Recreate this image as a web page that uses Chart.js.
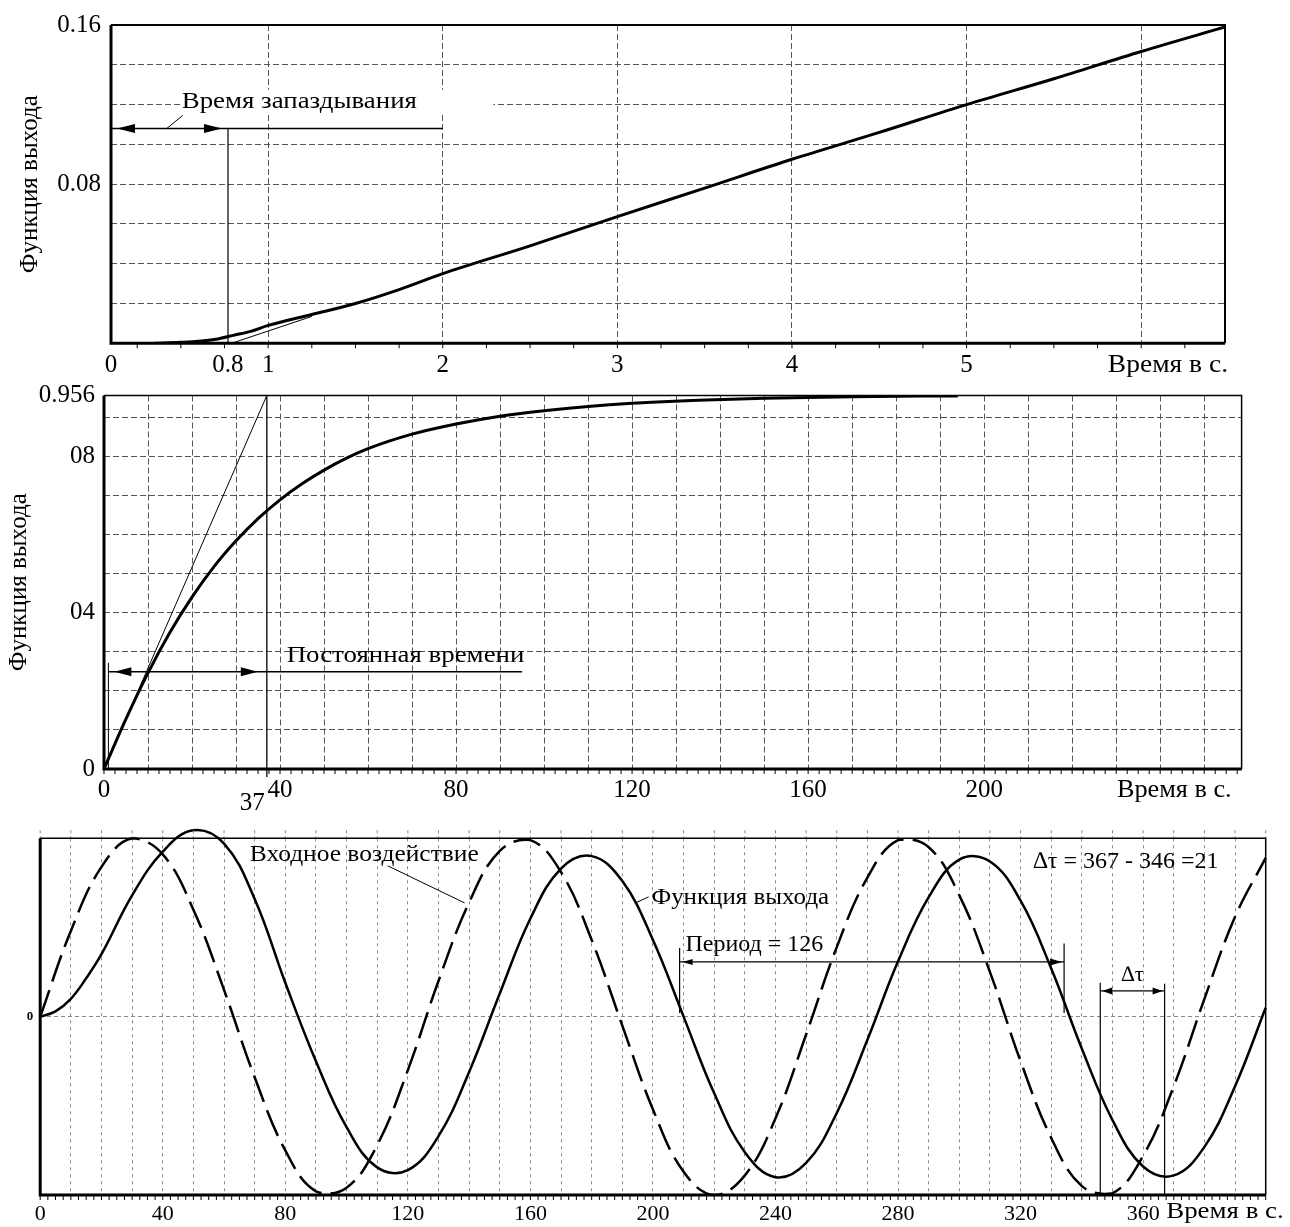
<!DOCTYPE html>
<html>
<head>
<meta charset="utf-8">
<script src="https://cdn.jsdelivr.net/npm/chart.js@4.4.1/dist/chart.umd.min.js"></script>
<style>
  html, body { margin: 0; padding: 0; background: #fff; }
  body { width: 1290px; height: 1227px; position: relative; overflow: hidden; }
  canvas { position: absolute; left: 0; }
</style>
</head>
<body>
<canvas id="delayChart" width="1290" height="390" style="top:0px"></canvas>
<canvas id="stepChart" width="1290" height="462" style="top:368px"></canvas>
<canvas id="sineChart" width="1290" height="407" style="top:820px"></canvas>
<script>
// --- график 1: время запаздывания ---
const delayTime = [0.35, 0.5, 0.6, 0.7, 0.8, 0.9, 1.0, 1.25, 1.5, 1.75, 2.0, 2.5, 3.0, 3.5, 4.0, 4.5, 5.0, 5.5, 6.0, 6.48];
const delayOut = [0, 0.0005, 0.001, 0.002, 0.004, 0.006, 0.009, 0.0145, 0.02, 0.027, 0.035, 0.049, 0.0637, 0.078, 0.0925, 0.106, 0.12, 0.133, 0.1467, 0.159];
const delayTangentX = [0.79, 1.25];
const delayTangentY = [0, 0.0135];
const delayXTicks = [0.1, 0.77, 1, 2, 3, 4, 5, 6];
const delayXLabels = ["0", "0.8", "1", "2", "3", "4", "5", ""];
const delayYTicks = [0, 0.02, 0.04, 0.06, 0.08, 0.1, 0.12, 0.14, 0.16];
const delayYLabels = ["", "", "", "", "0.08", "", "", "", "0.16"];

// --- график 2: постоянная времени ---
const stepTime = [0, 5, 10, 15, 20, 25, 30, 35, 40, 45, 50, 55, 60, 70, 80, 90, 100, 110, 120, 135, 150, 170, 194];
const stepOut = [0, 0.128, 0.246, 0.35, 0.44, 0.518, 0.584, 0.641, 0.689, 0.73, 0.765, 0.795, 0.82, 0.857, 0.883, 0.903, 0.917, 0.928, 0.936, 0.944, 0.949, 0.953, 0.955];
const stepTangentX = [0, 37];
const stepTangentY = [0, 0.956];
const stepXTicks = [0, 10, 20, 30, 40, 50, 60, 70, 80, 90, 100, 110, 120, 130, 140, 150, 160, 170, 180, 190, 200, 210, 220, 230, 240, 250];
const stepXLabelled = [0, 40, 80, 120, 160, 200];
const stepYTicks = [0, 0.1, 0.2, 0.3, 0.4, 0.5, 0.6, 0.7, 0.8, 0.9, 0.956];
const stepYLabels = ["0", "", "", "", "04", "", "", "", "08", "", "0.956"];

// --- график 3: синусоидальное воздействие ---
const inTime = [0, 10, 20, 30, 40, 50, 60, 70, 80, 90, 100, 110, 120, 130, 140, 150, 160, 170, 180, 190, 200,
  210, 220, 230, 240, 250, 260, 270, 280, 290, 300, 310, 320, 330, 340, 350, 360, 370, 380, 390, 400];
const sineInput = [0, 0.48, 0.84, 1.0, 0.91, 0.6, 0.15, -0.34, -0.75, -0.98, -0.96, -0.72, -0.3, 0.2, 0.64, 0.93, 0.99, 0.81, 0.43, -0.05, -0.52,
  -0.87, -1.0, -0.89, -0.57, -0.1, 0.39, 0.78, 0.99, 0.95, 0.68, 0.25, -0.25, -0.68, -0.95, -0.99, -0.78, -0.39, 0.1, 0.56, 0.89];
const outTime = [0, 5, 10, 15, 20, 30, 40, 50, 60, 70, 80, 90, 100, 110, 120, 130, 140, 150, 160, 170, 180, 190, 200,
  210, 220, 230, 240, 250, 260, 270, 280, 290, 300, 310, 320, 330, 340, 350, 360, 370, 380, 390, 400];
const sineOutput = [0, 0.03, 0.1, 0.215, 0.35, 0.68, 0.925, 1.045, 0.97, 0.66, 0.19, -0.25, -0.62, -0.845, -0.86, -0.67, -0.31, 0.13, 0.55, 0.83, 0.9, 0.76, 0.43,
  0.0, -0.43, -0.76, -0.9, -0.82, -0.54, -0.13, 0.31, 0.67, 0.88, 0.87, 0.65, 0.27, -0.18, -0.58, -0.84, -0.89, -0.73, -0.39, 0.05];
const sineXTicks = [0, 10, 20, 30, 40, 50, 60, 70, 80, 90, 100, 110, 120, 130, 140, 150, 160, 170, 180, 190, 200,
  210, 220, 230, 240, 250, 260, 270, 280, 290, 300, 310, 320, 330, 340, 350, 360, 370, 380, 390, 400];
const sineXLabelled = [0, 40, 80, 120, 160, 200, 240, 280, 320, 360];
const sineYTicks = [-1, 0, 1];
const sineYLabels = ["", "0", ""];

const serif = "'Liberation Serif', 'Times New Roman', serif";
Chart.defaults.font.family = serif;
Chart.defaults.color = "#000";
const gridDark = "#555";
const gridLight = "#888";

function pts(xs, ys) {
  return xs.map((x, i) => ({ x: x, y: ys[i] }));
}

function seg(ctx, x1, y1, x2, y2, w) {
  ctx.lineWidth = w;
  ctx.beginPath();
  ctx.moveTo(x1, y1);
  ctx.lineTo(x2, y2);
  ctx.stroke();
}

// треугольная стрелка, остриё в (x, y)
function head(ctx, x, y, dir, len, half) {
  ctx.beginPath();
  ctx.moveTo(x, y);
  ctx.lineTo(x - dir * len, y - half);
  ctx.lineTo(x - dir * len, y + half);
  ctx.closePath();
  ctx.fill();
}

// надпись; k - растяжение по горизонтали (шрифт на исходнике чуть шире)
function text(ctx, str, x, y, size, align, k) {
  ctx.save();
  ctx.font = size + "px " + serif;
  ctx.textAlign = align || "left";
  ctx.textBaseline = "middle";
  ctx.translate(x, y);
  ctx.scale(k || 1, 1);
  ctx.fillText(str, 0, 0);
  ctx.restore();
}

// рамка графика + мелкие риски по оси времени
function frame(thick, thin, minorStep, gridAbove) {
  return {
    id: "frame",
    afterDatasetsDraw(chart) {
      const { ctx, chartArea: a } = chart;
      const x = chart.scales.x;
      ctx.save();
      ctx.strokeStyle = "#000";
      for (let v = Math.ceil(x.min / minorStep) * minorStep; v <= x.max; v += minorStep) {
        const p = x.getPixelForValue(v);
        seg(ctx, p, a.bottom, p, a.bottom + 5, 1);
      }
      if (gridAbove) {
        ctx.strokeStyle = gridLight;
        ctx.setLineDash([3, 3]);
        x.ticks.forEach(t => {
          const p = x.getPixelForValue(t.value);
          seg(ctx, p, a.top - 8, p, a.top, 1);
        });
        ctx.setLineDash([]);
        ctx.strokeStyle = "#000";
      }
      ctx.lineWidth = thin;
      ctx.beginPath();
      ctx.moveTo(a.left, a.top);
      ctx.lineTo(a.right, a.top);
      ctx.lineTo(a.right, a.bottom);
      ctx.stroke();
      ctx.lineWidth = thick;
      ctx.beginPath();
      ctx.moveTo(a.left, a.top);
      ctx.lineTo(a.left, a.bottom);
      ctx.lineTo(a.right, a.bottom);
      ctx.stroke();
      ctx.restore();
    }
  };
}

const baseOpts = {
  responsive: false,
  animation: false,
  events: [],
  plugins: { legend: { display: false }, tooltip: { enabled: false } }
};

// ---------- график 1 ----------
const delayNotes = {
  id: "delayNotes",
  afterDatasetsDraw(chart) {
    const { ctx, chartArea: a, scales: { x, y } } = chart;
    const px = v => x.getPixelForValue(v), py = v => y.getPixelForValue(v);
    ctx.save();
    ctx.fillStyle = "#fff";
    ctx.fillRect(px(0.5), py(0.1215) - 12, px(2.29) - px(0.5), 24);
    ctx.fillStyle = "#000";
    ctx.strokeStyle = "#000";
    text(ctx, "Время запаздывания", px(0.505), py(0.1215), 24, "left", 1.12);
    const ay = py(0.108);
    seg(ctx, px(0.1), ay, px(2.0), ay, 1.5);
    head(ctx, px(0.1) + 6, ay, -1, 18, 4.5);
    head(ctx, px(0.77) - 6, ay, 1, 18, 4.5);
    seg(ctx, px(0.77), py(0), px(0.77), ay, 1.2);
    seg(ctx, px(0.51), py(0.1145), px(0.42), ay, 1);
    text(ctx, "Время в с.", a.right + 3, a.bottom + 22, 25, "right", 1.1);
    ctx.restore();
  }
};

new Chart(document.getElementById("delayChart"), {
  type: "line",
  data: {
    datasets: [
      { data: pts(delayTime, delayOut), borderColor: "#000", borderWidth: 3, pointRadius: 0, cubicInterpolationMode: "monotone" },
      { data: pts(delayTangentX, delayTangentY), borderColor: "#000", borderWidth: 1, pointRadius: 0 }
    ]
  },
  options: {
    ...baseOpts,
    layout: { padding: { left: 0, top: 23, right: 65, bottom: 0 } },
    scales: {
      x: {
        type: "linear", min: 0.1, max: 6.48,
        afterBuildTicks: s => { s.ticks = delayXTicks.map(v => ({ value: v })); },
        afterFit: s => { s.height = 46.7; },
        ticks: { autoSkip: false, maxRotation: 0, padding: 7, font: { size: 25 }, callback: (v, i) => delayXLabels[i] },
        grid: { drawTicks: false, color: c => (c.index < 2 ? "rgba(0,0,0,0)" : gridDark) },
        border: { display: false, dash: [6, 3] }
      },
      y: {
        min: 0, max: 0.16,
        afterBuildTicks: s => { s.ticks = delayYTicks.map(v => ({ value: v })); },
        afterFit: s => { s.width = 111; },
        ticks: { padding: 10, font: { size: 25 }, callback: (v, i) => delayYLabels[i] },
        grid: { drawTicks: false, color: gridDark },
        border: { display: false, dash: [6, 3] },
        title: { display: true, text: "Функция выхода", font: { size: 25 }, padding: { top: 15, bottom: 0 } }
      }
    }
  },
  plugins: [frame(3, 2, 0.25, false), delayNotes]
});

// ---------- график 2 ----------
const stepNotes = {
  id: "stepNotes",
  afterDatasetsDraw(chart) {
    const { ctx, chartArea: a, scales: { x, y } } = chart;
    const px = v => x.getPixelForValue(v), py = v => y.getPixelForValue(v);
    ctx.save();
    ctx.fillStyle = "#000";
    ctx.strokeStyle = "#000";
    seg(ctx, px(37), py(0.956), px(37), py(0) + 8, 1.3);
    seg(ctx, px(1), py(0), px(1), py(0.272), 1);
    const ay = py(0.249);
    seg(ctx, px(1), ay, px(95), ay, 1.5);
    head(ctx, px(1) + 6, ay, -1, 17, 4.5);
    head(ctx, px(37) - 9, ay, 1, 17, 4.5);
    text(ctx, "Постоянная времени", px(41.5), py(0.29), 24, "left", 1.12);
    text(ctx, "37", px(37) - 2, py(0) + 34, 25, "right");
    text(ctx, "Время в с.", a.right - 10, a.bottom + 21, 25, "right", 1.05);
    ctx.restore();
  }
};

new Chart(document.getElementById("stepChart"), {
  type: "line",
  data: {
    datasets: [
      { data: pts(stepTime, stepOut), borderColor: "#000", borderWidth: 3, pointRadius: 0, cubicInterpolationMode: "monotone" },
      { data: pts(stepTangentX, stepTangentY), borderColor: "#000", borderWidth: 1, pointRadius: 0 }
    ]
  },
  options: {
    ...baseOpts,
    layout: { padding: { left: 0, top: 27.5, right: 48.4, bottom: 0 } },
    scales: {
      x: {
        type: "linear", min: 0, max: 258.5,
        afterBuildTicks: s => { s.ticks = stepXTicks.map(v => ({ value: v })); },
        afterFit: s => { s.height = 61; },
        ticks: { autoSkip: false, maxRotation: 0, padding: 6, font: { size: 25 },
          callback: v => (stepXLabelled.includes(v) ? String(v) : "") },
        grid: { drawTicks: false, color: gridDark },
        border: { display: false, dash: [6, 3] }
      },
      y: {
        min: 0, max: 0.956,
        afterBuildTicks: s => { s.ticks = stepYTicks.map(v => ({ value: v })); },
        afterFit: s => { s.width = 104; },
        ticks: { padding: 9, font: { size: 25 }, callback: (v, i) => stepYLabels[i] },
        grid: { drawTicks: false, color: gridDark },
        border: { display: false, dash: [6, 3] },
        title: { display: true, text: "Функция выхода", font: { size: 25 }, padding: { top: 4, bottom: 0 } }
      }
    }
  },
  plugins: [frame(3, 1.5, 2.5, false), stepNotes]
});

// ---------- график 3 ----------
const sineNotes = {
  id: "sineNotes",
  afterDatasetsDraw(chart) {
    const { ctx, chartArea: a, scales: { x, y } } = chart;
    const px = v => x.getPixelForValue(v), py = v => y.getPixelForValue(v);
    ctx.save();
    ctx.fillStyle = "#000";
    ctx.strokeStyle = "#000";
    text(ctx, "Входное воздействие", px(68.4), py(0.907), 24, "left", 1.06);
    seg(ctx, px(113.4), py(0.846), px(138.5), py(0.638), 1);
    text(ctx, "Функция выхода", px(199.5), py(0.666), 24, "left", 1.04);
    seg(ctx, px(194.3), py(0.638), px(198.6), py(0.672), 1);

    // период
    text(ctx, "Период = 126", px(210.6), py(0.402), 24);
    seg(ctx, px(208.7), py(0.02), px(208.7), py(0.385), 1.2);
    seg(ctx, px(334.2), py(0.02), px(334.2), py(0.41), 1.2);
    const pyA = py(0.307);
    seg(ctx, px(208.7), pyA, px(334.2), pyA, 1.3);
    head(ctx, px(208.7) + 3, pyA, -1, 10, 3);
    head(ctx, px(334.2) - 2, pyA, 1, 12, 3.5);

    // запаздывание по фазе
    text(ctx, "∆τ = 367 - 346 =21", px(324.1), py(0.868), 24);
    seg(ctx, px(346), py(-1), px(346), py(0.19), 1.2);
    seg(ctx, px(367), py(-1), px(367), py(0.185), 1.2);
    const pyD = py(0.144);
    seg(ctx, px(346), pyD, px(367), pyD, 1.3);
    head(ctx, px(346) + 2, pyD, -1, 10, 3.5);
    head(ctx, px(367) - 2, pyD, 1, 10, 3.5);
    text(ctx, "∆τ", px(356.5), py(0.234), 22, "center");

    text(ctx, "Время в с.", a.right + 18, a.bottom + 17, 24, "right", 1.12);
    ctx.restore();
  }
};

new Chart(document.getElementById("sineChart"), {
  type: "line",
  data: {
    datasets: [
      { data: pts(inTime, sineInput), borderColor: "#000", borderWidth: 2.5, borderDash: [28, 9], pointRadius: 0, tension: 0.4, clip: false },
      { data: pts(outTime, sineOutput), borderColor: "#000", borderWidth: 2.5, pointRadius: 0, tension: 0.4, clip: false }
    ]
  },
  options: {
    ...baseOpts,
    layout: { padding: { left: 0, top: 18.3, right: 24.3, bottom: 0 } },
    scales: {
      x: {
        type: "linear", min: 0, max: 400,
        afterBuildTicks: s => { s.ticks = sineXTicks.map(v => ({ value: v })); },
        afterFit: s => { s.height = 32; },
        ticks: { autoSkip: false, maxRotation: 0, padding: 6, font: { size: 22 },
          callback: v => (sineXLabelled.includes(v) ? String(v) : "") },
        grid: { drawTicks: false, color: gridLight },
        border: { display: false, dash: [3, 4] }
      },
      y: {
        min: -1, max: 1,
        afterBuildTicks: s => { s.ticks = sineYTicks.map(v => ({ value: v })); },
        afterFit: s => { s.width = 40.2; },
        ticks: { padding: 7, font: { size: 13, weight: "bold" }, callback: (v, i) => sineYLabels[i] },
        grid: { drawTicks: false, color: gridLight },
        border: { display: false, dash: [4, 3] }
      }
    }
  },
  plugins: [frame(3, 1.5, 2.5, true), sineNotes]
});
</script>
</body>
</html>
